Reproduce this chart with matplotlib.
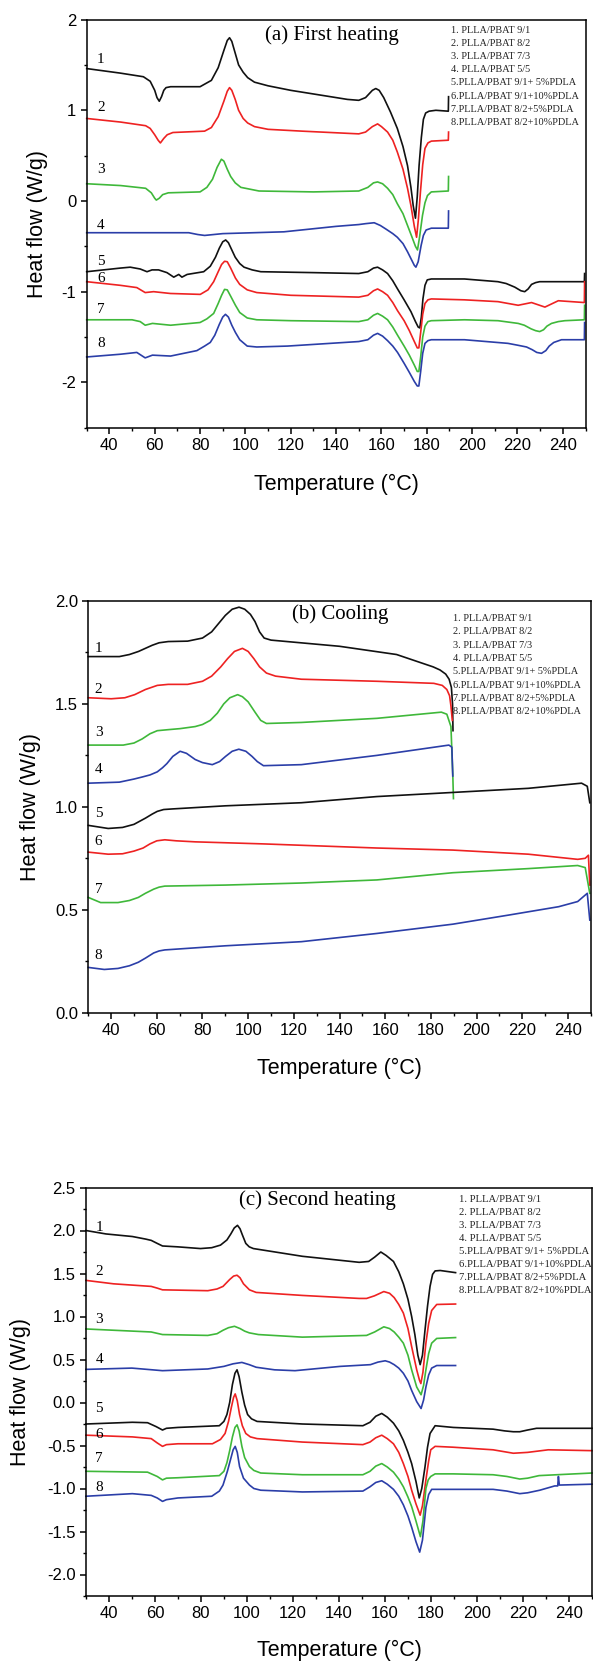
import matplotlib
matplotlib.use("Agg")
import matplotlib.pyplot as plt
from matplotlib.ticker import MultipleLocator, FormatStrFormatter

# sample names (same in all three panels)
samples = ['1. PLLA/PBAT 9/1', '2. PLLA/PBAT 8/2', '3. PLLA/PBAT 7/3', '4. PLLA/PBAT 5/5',
           '5.PLLA/PBAT 9/1+ 5%PDLA', '6.PLLA/PBAT 9/1+10%PDLA',
           '7.PLLA/PBAT 8/2+5%PDLA', '8.PLLA/PBAT 8/2+10%PDLA']
colors = ['#111111', '#ee2222', '#3fb83a', '#2b3ea8', '#111111', '#ee2222', '#3fb83a', '#2b3ea8']

# (a) first heating
a1_x = [30, 44.8, 55, 58, 60, 61, 62, 63, 64, 65, 67, 80, 85, 88, 90.5, 92, 93, 94, 95.5, 97, 99, 101, 104, 110, 120, 145, 150, 153, 156, 157.5, 159, 161, 164, 167, 169.5, 171.5, 173, 174, 175, 175.8, 176.6, 177.6, 178.5, 179.5, 181, 184, 189.5, 189.6]
a1_y = [1.46, 1.41, 1.37, 1.32, 1.22, 1.14, 1.1, 1.15, 1.22, 1.25, 1.26, 1.26, 1.33, 1.47, 1.66, 1.77, 1.8, 1.76, 1.63, 1.5, 1.42, 1.36, 1.31, 1.27, 1.22, 1.12, 1.11, 1.14, 1.22, 1.24, 1.22, 1.14, 0.98, 0.8, 0.6, 0.39, 0.15, -0.05, -0.19, 0.05, 0.39, 0.7, 0.9, 0.97, 0.99, 1.0, 0.99, 1.15]
a2_x = [30, 45, 56, 58, 60, 61.5, 62.5, 64, 65.5, 68, 82, 85, 88, 90.5, 92, 93, 94, 95.5, 97, 99, 101, 104, 110, 125, 150, 153, 156, 158.3, 160, 162.7, 165, 167, 169.5, 171.5, 173, 174.5, 175.5, 176.3, 177.2, 178.2, 179.2, 180.5, 182, 189.5, 189.6]
a2_y = [0.91, 0.87, 0.83, 0.80, 0.73, 0.67, 0.64, 0.69, 0.73, 0.755, 0.77, 0.81, 0.93, 1.1, 1.21, 1.25, 1.22, 1.12, 1.0, 0.91, 0.86, 0.82, 0.79, 0.77, 0.74, 0.76, 0.82, 0.85, 0.82, 0.76, 0.67, 0.54, 0.35, 0.14, -0.05, -0.28, -0.40, -0.2, 0.1, 0.4, 0.58, 0.64, 0.66, 0.67, 0.76]
a3_x = [30, 45, 56, 58.5, 60, 60.7, 62, 63.5, 66, 80, 83, 85.5, 87.5, 89.4, 90.5, 92, 93.5, 95.5, 98, 102, 106, 130, 150, 154, 156.5, 158.3, 160.5, 162.7, 165, 167, 169.5, 171.5, 173.5, 175, 175.9, 176.8, 178.1, 179.2, 180.3, 182, 189.5, 189.6]
a3_y = [0.19, 0.17, 0.14, 0.09, 0.03, 0.01, 0.03, 0.07, 0.09, 0.1, 0.15, 0.24, 0.37, 0.46, 0.44, 0.35, 0.27, 0.2, 0.15, 0.13, 0.11, 0.1, 0.11, 0.15, 0.2, 0.21, 0.19, 0.14, 0.07, -0.03, -0.14, -0.27, -0.4, -0.5, -0.54, -0.4, -0.16, -0.02, 0.06, 0.1, 0.11, 0.27]
a4_x = [30, 50, 75, 79, 82, 86, 90, 117, 140, 150, 153, 156.8, 159.5, 162, 165, 167, 169.5, 171.5, 173.5, 174.5, 175.2, 176.2, 177.5, 178.5, 179.7, 182, 189.5, 189.6]
a4_y = [-0.35, -0.35, -0.35, -0.37, -0.38, -0.37, -0.36, -0.34, -0.28, -0.26, -0.25, -0.24, -0.27, -0.31, -0.36, -0.40, -0.47, -0.56, -0.66, -0.71, -0.73, -0.67, -0.49, -0.38, -0.32, -0.30, -0.30, -0.11]
a5_x = [30, 44.8, 49.2, 53.6, 56.6, 58.8, 61.7, 65.4, 68.4, 70.6, 72, 74.3, 81.6, 84.5, 86.8, 88.5, 90, 91.3, 92.5, 94, 95.5, 97.5, 99.4, 103, 106.8, 130, 150, 154, 156.5, 158.3, 160.5, 162.7, 165, 167.1, 170, 173, 175, 176.2, 176.9, 177.6, 178.3, 179.2, 180.2, 182, 196.6, 211.4, 215, 218.8, 221.5, 223.2, 224.7, 226.2, 228, 229.8, 249.5, 249.6]
a5_y = [-0.78, -0.74, -0.73, -0.75, -0.78, -0.76, -0.76, -0.79, -0.84, -0.81, -0.84, -0.81, -0.78, -0.72, -0.62, -0.52, -0.45, -0.43, -0.46, -0.54, -0.62, -0.69, -0.73, -0.76, -0.78, -0.79, -0.8, -0.78, -0.74, -0.73, -0.76, -0.8, -0.88, -0.97, -1.09, -1.22, -1.33, -1.39, -1.40, -1.28, -1.08, -0.93, -0.87, -0.86, -0.86, -0.89, -0.91, -0.95, -0.99, -1.0, -0.97, -0.92, -0.9, -0.89, -0.89, -0.80]
a6_x = [30, 44.8, 52.1, 55.8, 59.5, 66.9, 80.1, 83.5, 86, 88, 89.5, 90.8, 92, 93.5, 95.6, 97.5, 100.8, 105, 120, 150, 154, 156.5, 158.3, 160.5, 162.7, 165, 167.1, 170, 172.3, 174.5, 175.8, 176.5, 177.3, 178.2, 179.2, 180.5, 182, 196.6, 211.4, 220.3, 226.2, 232.1, 238, 249.5, 249.6]
a6_y = [-0.89, -0.93, -0.955, -1.01, -1.0, -1.02, -1.03, -0.98, -0.89, -0.78, -0.70, -0.665, -0.67, -0.74, -0.85, -0.92, -0.98, -1.01, -1.04, -1.06, -1.04, -0.99, -0.97, -1.0, -1.04, -1.12, -1.21, -1.32, -1.43, -1.55, -1.62, -1.62, -1.45, -1.25, -1.13, -1.09, -1.08, -1.09, -1.11, -1.15, -1.12, -1.17, -1.10, -1.12, -0.89]
a7_x = [30, 50, 53.6, 55.8, 59, 67, 80, 83, 86, 88, 89.5, 90.8, 92, 93.5, 95.6, 97.5, 100.8, 105, 120, 150, 154, 156.5, 158.3, 160.5, 162.7, 165, 167.1, 170, 172.3, 174.5, 175.8, 176.5, 177.3, 178.2, 179.2, 180.5, 182, 196.6, 211.4, 220.3, 223, 226, 228, 229.8, 231.5, 233, 235, 238, 240.9, 249.5, 249.6]
a7_y = [-1.31, -1.31, -1.33, -1.37, -1.35, -1.37, -1.34, -1.30, -1.24, -1.13, -1.04, -0.975, -0.98, -1.05, -1.15, -1.23, -1.29, -1.31, -1.32, -1.33, -1.31, -1.26, -1.24, -1.27, -1.31, -1.39, -1.48, -1.6, -1.70, -1.81, -1.88, -1.88, -1.72, -1.5, -1.38, -1.33, -1.32, -1.31, -1.32, -1.35, -1.37, -1.41, -1.43, -1.44, -1.42, -1.38, -1.35, -1.33, -1.32, -1.31, -1.15]
a8_x = [30, 44.8, 52.1, 55.8, 59, 67, 78.6, 82, 84.5, 86.5, 88.5, 90, 91.2, 92.5, 94, 95.6, 97.5, 100.8, 105, 118.5, 150, 154, 156.5, 158.3, 160.5, 162.7, 165, 167.1, 170, 172.3, 174.5, 175.8, 176.5, 177.3, 178.2, 179.2, 180.5, 182, 196.6, 215.8, 220, 224, 226.5, 228.5, 230.6, 232.5, 234, 236, 239.4, 249.5, 249.6]
a8_y = [-1.72, -1.69, -1.67, -1.73, -1.70, -1.71, -1.65, -1.60, -1.56, -1.48, -1.36, -1.28, -1.25, -1.28, -1.37, -1.45, -1.53, -1.60, -1.61, -1.60, -1.55, -1.53, -1.48, -1.46, -1.49, -1.54, -1.6, -1.67, -1.79, -1.89, -1.99, -2.04, -2.04, -1.88, -1.68, -1.57, -1.54, -1.53, -1.53, -1.57, -1.59, -1.61, -1.64, -1.67, -1.68, -1.65, -1.60, -1.56, -1.53, -1.53, -1.34]

# (b) cooling
b1_x = [30, 43.6, 48, 52, 55, 58, 61, 65, 73.5, 80, 84, 87, 90, 93, 96, 98.5, 101, 103, 105, 107, 110, 140, 165, 181, 184, 186.5, 188, 189, 189.5, 189.7]
b1_y = [1.73, 1.73, 1.74, 1.755, 1.77, 1.785, 1.797, 1.803, 1.805, 1.82, 1.85, 1.89, 1.93, 1.96, 1.97, 1.96, 1.935, 1.90, 1.85, 1.82, 1.81, 1.78, 1.74, 1.68, 1.665, 1.645, 1.62, 1.58, 1.5, 1.37]
b2_x = [30, 40, 46, 50.3, 55, 60.2, 65, 73.5, 80, 84, 88, 91, 94, 97.5, 100, 102.5, 105, 108, 112, 123.3, 156.4, 181.3, 185, 187, 188.2, 188.8, 189.4]
b2_y = [1.53, 1.525, 1.53, 1.545, 1.57, 1.59, 1.595, 1.595, 1.61, 1.635, 1.68, 1.72, 1.755, 1.77, 1.755, 1.72, 1.68, 1.65, 1.635, 1.62, 1.61, 1.60, 1.59, 1.57, 1.54, 1.49, 1.42]
b3_x = [30, 45.3, 50, 53.6, 57, 60.2, 65, 70.2, 76.8, 80, 83.4, 86.5, 89.3, 92, 95.4, 97.5, 100, 103, 105.5, 108, 123.3, 156.4, 184.6, 187, 188.8, 189.6, 189.9]
b3_y = [1.30, 1.30, 1.31, 1.33, 1.355, 1.37, 1.375, 1.38, 1.39, 1.40, 1.42, 1.455, 1.50, 1.53, 1.545, 1.535, 1.51, 1.46, 1.42, 1.405, 1.41, 1.43, 1.46, 1.45, 1.39, 1.16, 1.04]
b4_x = [30, 43.6, 50, 53.6, 57, 60.2, 62.5, 64.4, 67, 70.2, 73, 76.8, 80, 84.3, 87.5, 90.1, 93, 95.9, 99, 101.7, 104, 106.7, 123.3, 156.4, 187.9, 189.2, 189.6]
b4_y = [1.115, 1.12, 1.135, 1.145, 1.155, 1.17, 1.19, 1.21, 1.245, 1.27, 1.26, 1.23, 1.215, 1.205, 1.22, 1.245, 1.27, 1.28, 1.27, 1.245, 1.22, 1.20, 1.205, 1.25, 1.30, 1.29, 1.15]
b5_x = [30, 38.7, 45, 50, 55, 58, 60.2, 63, 67, 90, 123.3, 156.4, 189.6, 222.7, 246, 248.5, 249.6]
b5_y = [0.91, 0.895, 0.90, 0.915, 0.945, 0.965, 0.978, 0.987, 0.99, 1.005, 1.02, 1.05, 1.07, 1.09, 1.115, 1.10, 1.02]
b6_x = [30, 38.7, 45, 50, 54, 57, 60, 63.5, 68.5, 76.8, 106.7, 156.4, 189.6, 222.7, 244.3, 247.6, 249, 249.6]
b6_y = [0.78, 0.77, 0.772, 0.785, 0.80, 0.82, 0.835, 0.84, 0.835, 0.83, 0.82, 0.80, 0.79, 0.77, 0.745, 0.75, 0.765, 0.62]
b7_x = [30, 35.4, 43, 48, 51.9, 55, 58.6, 61, 63.5, 90, 123.3, 156.4, 189.6, 222.7, 244.3, 247.6, 249.6]
b7_y = [0.56, 0.535, 0.535, 0.545, 0.56, 0.58, 0.60, 0.61, 0.615, 0.62, 0.63, 0.645, 0.68, 0.70, 0.715, 0.705, 0.58]
b8_x = [30, 37, 43, 48, 51.9, 55, 58.6, 61, 63.5, 90, 123.3, 156.4, 189.6, 214.5, 236, 244.3, 248.5, 249.6]
b8_y = [0.22, 0.21, 0.215, 0.228, 0.245, 0.265, 0.29, 0.30, 0.305, 0.325, 0.345, 0.385, 0.43, 0.475, 0.515, 0.54, 0.58, 0.45]

# (c) second heating
c1_x = [30, 38.7, 50.2, 56, 58.4, 61, 63.3, 69.9, 79.8, 84.7, 88.5, 91.3, 93, 94.5, 95.9, 97, 98, 99.5, 101, 102.8, 124.1, 148.8, 152.9, 155.5, 158.2, 160.5, 163.7, 166, 168, 170, 171.6, 173, 174.3, 175.3, 176.3, 177.4, 178.5, 179.6, 180.7, 181.8, 184, 190.7]
c1_y = [2.0, 1.96, 1.93, 1.90, 1.885, 1.85, 1.82, 1.81, 1.79, 1.80, 1.83, 1.89, 1.96, 2.03, 2.06, 2.02, 1.95, 1.85, 1.81, 1.79, 1.70, 1.63, 1.64, 1.69, 1.75, 1.71, 1.64, 1.52, 1.38, 1.2, 1.0, 0.79, 0.55, 0.44, 0.55, 0.84, 1.12, 1.35, 1.49, 1.53, 1.535, 1.51]
c2_x = [30, 42, 58.4, 61, 63.3, 83, 87, 89.6, 92.5, 94.2, 95.7, 97, 98.5, 101.1, 104, 124.1, 148.8, 152, 155.4, 159.5, 162, 164, 166, 168, 170, 171.6, 173.8, 175, 175.6, 176.5, 177.8, 179, 180.3, 182.5, 190.7]
c2_y = [1.42, 1.38, 1.35, 1.33, 1.31, 1.30, 1.32, 1.35, 1.43, 1.47, 1.48, 1.45, 1.38, 1.31, 1.28, 1.245, 1.21, 1.21, 1.24, 1.29, 1.27, 1.22, 1.14, 1.04, 0.86, 0.65, 0.38, 0.26, 0.22, 0.35, 0.69, 0.92, 1.07, 1.14, 1.145]
c3_x = [30, 58.4, 63.3, 83, 87, 89.6, 92, 94.6, 97, 99, 101, 105, 124.1, 152, 155.5, 159.5, 162, 164, 166, 168, 170, 171.6, 173.8, 175.7, 176.8, 177.8, 179, 180.3, 182.5, 190.7]
c3_y = [0.855, 0.82, 0.79, 0.78, 0.80, 0.84, 0.87, 0.886, 0.86, 0.83, 0.81, 0.79, 0.76, 0.78, 0.82, 0.88, 0.86, 0.82, 0.76, 0.69, 0.55, 0.38, 0.18, 0.09, 0.2, 0.38, 0.57, 0.69, 0.745, 0.755]
c4_x = [30, 50, 63.3, 83, 90, 94, 97.8, 101, 104, 112, 120.9, 140.6, 153.7, 157, 160.1, 162, 164, 166, 168, 170, 171.6, 173.8, 175.7, 176.8, 177.8, 179, 180.3, 182.5, 190.7]
c4_y = [0.385, 0.40, 0.37, 0.39, 0.42, 0.45, 0.466, 0.44, 0.41, 0.38, 0.37, 0.42, 0.44, 0.47, 0.485, 0.47, 0.44, 0.40, 0.34, 0.25, 0.14, 0.01, -0.07, 0.03, 0.18, 0.32, 0.40, 0.43, 0.43]
c5_x = [30, 50.2, 56.8, 60.5, 63.3, 65, 70, 88, 90, 91.3, 92.5, 93.7, 94.8, 95.7, 96.6, 97.8, 99, 100.3, 102, 104.4, 124.1, 150.4, 153.5, 156, 158.6, 161, 163.7, 166, 168, 170, 171.6, 173.5, 174.9, 176, 177.4, 178.5, 179.6, 181.8, 189.7, 207, 212, 215.8, 218.6, 222, 225.9, 250]
c5_y = [-0.25, -0.23, -0.235, -0.28, -0.32, -0.30, -0.29, -0.27, -0.22, -0.14, 0.0, 0.21, 0.34, 0.38, 0.3, 0.12, -0.03, -0.14, -0.19, -0.22, -0.25, -0.27, -0.23, -0.16, -0.127, -0.17, -0.24, -0.33, -0.44, -0.58, -0.71, -0.92, -1.11, -1.0, -0.75, -0.52, -0.36, -0.27, -0.29, -0.31, -0.33, -0.34, -0.34, -0.32, -0.30, -0.30]
c6_x = [30, 50.2, 58.4, 61, 63.3, 65, 70, 85, 88.5, 90.5, 92, 93.2, 94.2, 94.9, 95.8, 96.8, 98, 99.5, 101.5, 104.4, 124.1, 150.4, 153.5, 156, 158.6, 161, 163.7, 166, 168, 170, 171.6, 173.5, 175.3, 176.3, 177.8, 179, 179.9, 181.8, 189.7, 207, 215.8, 222, 231, 250]
c6_y = [-0.38, -0.40, -0.42, -0.47, -0.51, -0.49, -0.48, -0.48, -0.43, -0.36, -0.22, -0.06, 0.06, 0.10, 0.02, -0.14, -0.27, -0.36, -0.40, -0.42, -0.46, -0.49, -0.46, -0.41, -0.38, -0.42, -0.48, -0.58, -0.71, -0.86, -1.02, -1.18, -1.31, -1.2, -0.90, -0.68, -0.55, -0.51, -0.52, -0.55, -0.59, -0.58, -0.55, -0.56]
c7_x = [30, 56.8, 61, 63.3, 65, 70, 88, 90, 91.3, 92.5, 93.7, 94.8, 95.7, 96.6, 97.8, 99, 101.1, 103, 106, 124.1, 150.4, 153.5, 156, 158.6, 161, 163.7, 166, 168, 170, 171.6, 173.5, 175.4, 176.5, 177.8, 178.8, 179.9, 181.8, 189.7, 207, 213, 218.6, 222, 227, 250]
c7_y = [-0.80, -0.81, -0.86, -0.90, -0.88, -0.875, -0.85, -0.80, -0.70, -0.56, -0.40, -0.29, -0.26, -0.33, -0.51, -0.64, -0.745, -0.79, -0.82, -0.84, -0.84, -0.80, -0.74, -0.71, -0.75, -0.81, -0.89, -0.98, -1.1, -1.21, -1.38, -1.56, -1.38, -1.0, -0.9, -0.86, -0.83, -0.83, -0.84, -0.86, -0.89, -0.88, -0.85, -0.82]
c8_x = [30, 50.2, 58.4, 61, 63.3, 65, 70, 84.7, 88, 89.6, 91.5, 92.9, 94, 94.9, 95.8, 96.8, 98.5, 101.1, 103, 106, 124.1, 150.4, 153.5, 156, 158.6, 161, 163.7, 166, 168, 170, 171.6, 173.5, 175.1, 176.3, 177.8, 179, 180.3, 189.7, 207, 213, 218.6, 222, 227.3, 233.8, 235.1, 235.4, 235.8, 250]
c8_y = [-1.09, -1.06, -1.08, -1.11, -1.15, -1.13, -1.11, -1.09, -1.03, -0.96, -0.8, -0.66, -0.55, -0.51, -0.58, -0.745, -0.88, -0.96, -1.0, -1.02, -1.04, -1.03, -0.98, -0.93, -0.91, -0.95, -1.01, -1.09, -1.19, -1.32, -1.45, -1.62, -1.74, -1.6, -1.22, -1.07, -1.01, -1.01, -1.01, -1.03, -1.06, -1.05, -1.02, -0.97, -0.97, -0.86, -0.96, -0.95]

plt.rcParams['font.family'] = ['Liberation Sans', 'DejaVu Sans']
plt.rcParams['axes.unicode_minus'] = False
SERIF = ['Liberation Serif', 'DejaVu Serif']

W, H = 593, 1663
fig = plt.figure(figsize=(W / 100, H / 100), dpi=100)


def make_axes(left, right, top, bottom):
    return fig.add_axes([left / W, 1 - bottom / H, (right - left) / W, (bottom - top) / H])


def style(ax, ylim, ymaj, fmt):
    ax.set_xlim(30, 250)
    ax.set_ylim(*ylim)
    ax.xaxis.set_major_locator(MultipleLocator(20))
    ax.xaxis.set_minor_locator(MultipleLocator(10))
    ax.yaxis.set_major_locator(MultipleLocator(ymaj))
    ax.yaxis.set_minor_locator(MultipleLocator(ymaj / 2))
    ax.yaxis.set_major_formatter(FormatStrFormatter(fmt))
    ax.set_xticks([t for t in range(40, 250, 20)])
    ax.tick_params(which='major', direction='out', length=4.5, width=1.1, labelsize=12, pad=3)
    ax.tick_params(which='minor', direction='out', length=2.5, width=1.0)
    ax.tick_params(top=False, right=False)
    for s in ax.spines.values():
        s.set_linewidth(1.1)


panels = [
    dict(box=(86.7, 585.5, 19.6, 427.7), ylim=(-2.5, 2), ymaj=1, fmt='%d',
         curves=[(a1_x, a1_y), (a2_x, a2_y), (a3_x, a3_y), (a4_x, a4_y),
                 (a5_x, a5_y), (a6_x, a6_y), (a7_x, a7_y), (a8_x, a8_y)],
         title='(a) First heating', title_xy=(138, 1.83),
         leg_xy=(190.5, 1.885), leg_dy=0.146, leg_fs=7.4,
         nums_y=[1.556, 1.026, 0.35, -0.27, -0.67, -0.85, -1.20, -1.57], num_x=36.3,
         ylab_x=37.8, xlab_y=484),
    dict(box=(88.3, 590.7, 601, 1012.7), ylim=(0, 2), ymaj=0.5, fmt='%.1f',
         curves=[(b1_x, b1_y), (b2_x, b2_y), (b3_x, b3_y), (b4_x, b4_y),
                 (b5_x, b5_y), (b6_x, b6_y), (b7_x, b7_y), (b8_x, b8_y)],
         title='(b) Cooling', title_xy=(140.5, 1.935),
         leg_xy=(189.6, 1.916), leg_dy=0.065, leg_fs=7.4,
         nums_y=[1.77, 1.57, 1.36, 1.18, 0.97, 0.83, 0.60, 0.28], num_x=34.5,
         ylab_x=30.3, xlab_y=1068),
    dict(box=(85.9, 592, 1187.5, 1596), ylim=(-2.25, 2.5), ymaj=0.5, fmt='%.1f',
         curves=[(c1_x, c1_y), (c2_x, c2_y), (c3_x, c3_y), (c4_x, c4_y),
                 (c5_x, c5_y), (c6_x, c6_y), (c7_x, c7_y), (c8_x, c8_y)],
         title='(c) Second heating', title_xy=(130.8, 2.355),
         leg_xy=(192.3, 2.363), leg_dy=0.152, leg_fs=7.7,
         nums_y=[2.035, 1.52, 0.97, 0.50, -0.07, -0.37, -0.65, -0.99], num_x=35.8,
         ylab_x=20.8, xlab_y=1650),
]

for p in panels:
    left, right, top, bottom = p['box']
    ax = make_axes(left, right, top, bottom)
    style(ax, p['ylim'], p['ymaj'], p['fmt'])
    for (xs, ys), c in zip(p['curves'], colors):
        ax.plot(xs, ys, color=c, lw=1.2, solid_joinstyle='round', clip_on=False)
    ax.text(*p['title_xy'], p['title'], family=SERIF, fontsize=15, ha='center', va='center')
    lx, ly = p['leg_xy']
    for i, name in enumerate(samples):
        ax.text(lx, ly - i * p['leg_dy'], name, family=SERIF, fontsize=p['leg_fs'],
                ha='left', va='center', color='#222222')
    for i, ny in enumerate(p['nums_y']):
        ax.text(p['num_x'], ny, str(i + 1), family=SERIF, fontsize=11, ha='center', va='center')
    fig.text(p['ylab_x'] / W, 1 - (top + bottom) / 2 / H, 'Heat flow (W/g)',
             rotation=90, ha='center', va='center', fontsize=15.5)
    fig.text((left + right) / 2 / W, 1 - p['xlab_y'] / H, 'Temperature (\u00b0C)',
             ha='center', va='center', fontsize=15.5)

fig.savefig('out.png', dpi=100)
